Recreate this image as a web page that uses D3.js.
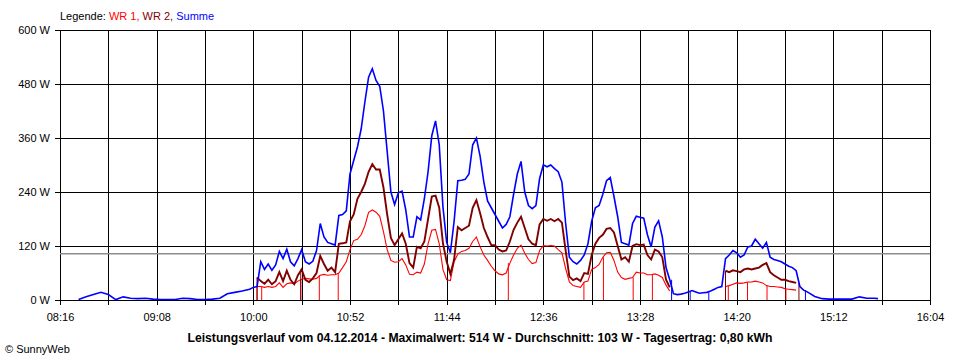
<!DOCTYPE html>
<html><head><meta charset="utf-8">
<script src="https://cdn.jsdelivr.net/npm/d3@7"></script>
<style>
body{margin:0;background:#fff}
svg{display:block}
text{font-family:"Liberation Sans",Arial,sans-serif;font-size:11px}
</style>
</head><body>
<svg id="chart" width="960" height="360"></svg>
<script>
// ---------- DATA ----------
const times = [
  "08:26","08:30","08:34","08:38","08:42","08:46","08:50","08:54","08:58","09:02","09:06","09:10",
  "09:14","09:18","09:22","09:26","09:30","09:34","09:38","09:42","09:46","09:50","09:54","09:58",
  "10:00","10:02","10:04","10:06","10:08","10:10","10:12","10:14","10:16","10:18",
  "10:20","10:22","10:24","10:26","10:28","10:30","10:32","10:34","10:36","10:38",
  "10:40","10:42","10:44","10:46","10:48","10:50","10:52","10:54","10:56","10:58",
  "11:00","11:02","11:04","11:06","11:08","11:10","11:12","11:14","11:16","11:18",
  "11:20","11:22","11:24","11:26","11:28","11:30","11:32","11:34","11:36","11:38",
  "11:40","11:42","11:44","11:46","11:48","11:50","11:52","11:54","11:56","11:58",
  "12:00","12:02","12:04","12:06","12:08","12:10","12:12","12:14","12:16","12:18",
  "12:20","12:22","12:24","12:26","12:28","12:30","12:32","12:34","12:36","12:38",
  "12:40","12:42","12:44","12:46","12:48","12:50","12:52","12:54","12:56","12:58",
  "13:00","13:02","13:04","13:06","13:08","13:10","13:12","13:14","13:16","13:18",
  "13:20","13:22","13:24","13:26","13:28","13:30","13:32","13:34","13:36","13:38",
  "13:40","13:42","13:44","13:46","13:48","13:50","13:52","13:54","13:56","13:58",
  "14:00","14:02","14:04","14:06","14:08","14:10","14:12","14:14","14:16","14:18",
  "14:20","14:22","14:24","14:26","14:28","14:30","14:32","14:34","14:36","14:38",
  "14:40","14:42","14:44","14:46","14:48","14:50","14:52","14:54","14:56","14:58",
  "15:02","15:06","15:10","15:14","15:18","15:22","15:26","15:30","15:34","15:36"
];

const summe = [
  1,7,12,17,12,1,7,4,3,4,2,1,
  1,1,4,3,1,1,2,4,14,17,20,24,
  28,30,85,68,80,66,78,108,92,113,
  85,76,92,112,85,80,86,110,170,140,
  128,125,122,188,190,198,280,310,340,380,
  440,495,514,488,475,420,330,240,212,238,
  242,200,140,140,185,178,225,285,365,398,
  345,207,128,105,175,265,266,268,280,345,
  360,319,262,220,205,190,175,160,168,185,
  235,280,308,240,210,203,210,270,300,296,
  300,292,285,262,170,95,85,80,88,100,
  125,175,205,210,235,265,272,230,185,128,
  125,122,170,186,184,182,145,118,162,176,
  140,72,45,14,12,13,15,18,21,18,
  15,16,17,20,24,28,30,92,100,110,
  105,95,100,118,120,135,125,115,128,95,
  90,88,85,80,75,72,65,30,22,18,
  8,3,2,2,2,2,7,4,4,3
];

const wr2 = [
  null,null,null,null,null,null,null,null,null,null,null,null,
  null,null,null,null,null,null,null,null,null,null,null,null,
  null,50,42,36,45,35,42,62,42,65,
  45,35,55,68,45,40,48,60,98,80,
  65,72,62,125,126,128,175,190,225,240,
  258,285,302,290,290,250,190,138,122,135,
  148,125,82,72,118,115,130,180,230,232,
  205,126,85,58,90,162,155,160,165,205,
  222,193,160,140,122,122,112,108,110,130,
  156,172,185,160,135,125,122,168,180,176,
  180,175,180,172,110,52,44,48,42,60,
  58,100,125,138,145,158,160,150,120,90,
  95,85,120,124,122,123,100,90,112,108,
  95,45,28,null,null,null,null,null,null,null,
  null,null,null,null,null,null,null,65,62,66,
  64,62,68,70,68,70,72,78,82,62,
  55,50,45,45,42,40,38,null,null,null,
  null,null,null,null,null,null,null,null,null,null
];

const wr1 = [
  null,null,null,null,null,null,null,null,null,null,null,null,
  null,null,null,null,null,null,null,null,null,null,null,null,
  null,30,30,28,30,28,30,38,28,36,
  38,36,42,46,48,47,46,48,55,57,
  55,56,56,60,72,85,112,132,135,145,
  165,195,200,195,186,152,112,88,84,85,
  92,78,57,56,62,60,80,125,155,157,
  125,68,45,43,85,102,108,110,115,130,
  140,118,100,88,75,65,58,56,60,82,
  100,115,122,104,90,81,83,110,121,120,
  121,120,112,105,70,40,32,30,28,40,
  42,68,72,79,95,105,106,88,62,50,
  46,48,50,62,60,60,56,56,58,55,
  50,33,20,null,null,null,null,null,null,null,
  null,null,null,null,null,null,null,30,32,35,
  38,37,38,40,40,42,40,38,32,30,
  30,29,28,25,24,23,22,null,null,null,
  null,null,null,null,null,null,null,null,null,null
];

// moments where a series dropped to 0 W
const wr1Drops = ["10:02","10:04:30","10:25:30","10:35:30","10:45:40","12:17:10","12:57:50",
  "13:08:20","13:24:20","13:34:40","14:14","14:15:30","14:25:50","14:36:20","14:46:30"];
const wr2Drops = ["10:02","10:25:30","14:14","14:53:30"];
const summeDrops = ["13:45","13:55","14:05","14:57"];

const yTicks = [0,120,240,360,480,600];
const xLabels = ["08:16","09:08","10:00","10:52","11:44","12:36","13:28","14:20","15:12","16:04"];
const gridTimes = ["08:16","08:42","09:08","09:34","10:00","10:26","10:52","11:18","11:44","12:10",
  "12:36","13:02","13:28","13:54","14:20","14:46","15:12","15:38","16:04"];
const average = 103;
const legendItems = [
  {text:"Legende: ", color:"#000000"},
  {text:"WR 1, ", color:"#FF0000"},
  {text:"WR 2, ", color:"#800000"},
  {text:"Summe", color:"#0000FF"}
];
const title = "Leistungsverlauf vom 04.12.2014 - Maximalwert: 514 W - Durchschnitt: 103 W - Tagesertrag: 0,80 kWh";
const copyright = "\u00A9 SunnyWeb";

// ---------- CHART ----------
function toDate(s){const p=s.split(":").map(Number);return new Date(2014,11,4,p[0],p[1],p[2]||0);}
const svg = d3.select("#chart");
svg.append("rect").attr("width",960).attr("height",360).attr("fill","#fff");

const x = d3.scaleTime().domain([toDate("08:16"),toDate("16:04")]).range([60,930]);
const y = d3.scaleLinear().domain([0,600]).range([300,30]);

// horizontal grid + y labels
const yAxis = d3.axisLeft(y).tickValues(yTicks).tickSizeInner(-875).tickSizeOuter(0)
  .tickPadding(5).tickFormat(d=>d+" W");
const gy = svg.append("g").attr("transform","translate(55,0)").call(yAxis);
gy.select(".domain").remove();
gy.selectAll(".tick line").attr("stroke","#000").attr("shape-rendering","crispEdges");
gy.selectAll(".tick text").attr("fill","#000").style("font-size","11px")
  .style("font-family","'Liberation Sans',Arial,sans-serif");

// vertical grid + x labels
const labelSet = new Set(xLabels);
const xAxis = d3.axisBottom(x).tickValues(gridTimes.map(toDate)).tickSizeInner(-275).tickSizeOuter(0)
  .tickPadding(8).tickFormat(d=>{const s=d3.timeFormat("%H:%M")(d);return labelSet.has(s)?s:"";});
const gx = svg.append("g").attr("transform","translate(0,305)").call(xAxis);
gx.select(".domain").remove();
gx.selectAll(".tick line").attr("stroke","#000").attr("shape-rendering","crispEdges");
gx.selectAll(".tick text").attr("fill","#000").style("font-size","11px")
  .style("font-family","'Liberation Sans',Arial,sans-serif");

// average line
svg.append("line").attr("x1",x.range()[0]).attr("x2",x.range()[1])
  .attr("y1",y(average)).attr("y2",y(average))
  .attr("stroke","#8c8c8c").attr("stroke-width",1.5);

const pts = times.map(toDate);
function drawSeries(values, drops, color, width){
  const data = pts.map((t,i)=>({t, v:values[i]}));
  const line = d3.line().defined(d=>d.v!==null).x(d=>x(d.t)).y(d=>y(d.v));
  svg.append("path").datum(data).attr("d",line).attr("fill","none")
    .attr("stroke",color).attr("stroke-width",width).attr("stroke-linejoin","miter");
  const defined = data.filter(d=>d.v!==null);
  svg.append("g").selectAll("line").data(drops.map(toDate)).join("line")
    .attr("x1",d=>x(d)).attr("x2",d=>x(d))
    .attr("y1",y(0))
    .attr("y2",d=>{const n=d3.least(defined,e=>Math.abs(e.t-d));return y(n.v);})
    .attr("stroke",color).attr("stroke-width",1);
}
drawSeries(wr1, wr1Drops, "#FF0000", 1.1);
drawSeries(wr2, wr2Drops, "#800000", 1.9);
drawSeries(summe, summeDrops, "#0000FF", 1.6);

// legend
const lg = svg.append("text").attr("x",60).attr("y",20);
legendItems.forEach(it=>lg.append("tspan").attr("fill",it.color).text(it.text));
lg.attr("xml:space","preserve").style("white-space","pre");

// title & copyright
svg.append("text").attr("x",480).attr("y",342).attr("text-anchor","middle")
  .style("font-weight","bold").style("font-size","12px")
  .attr("textLength",585).attr("lengthAdjust","spacingAndGlyphs").text(title);
svg.append("text").attr("x",5).attr("y",353).style("font-size","11px").text(copyright);
</script>
</body></html>
